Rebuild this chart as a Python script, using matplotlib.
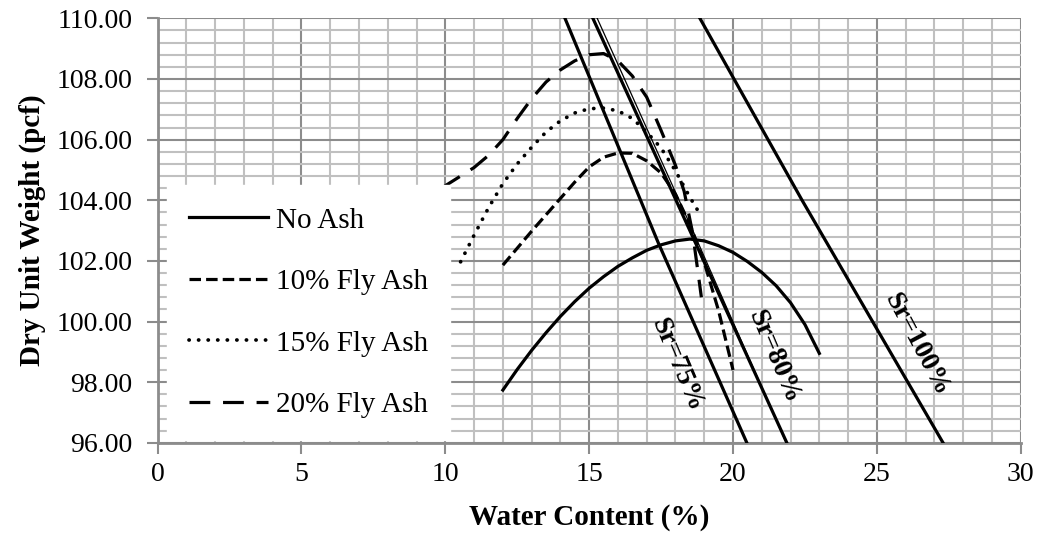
import matplotlib
matplotlib.use('Agg')
import matplotlib.pyplot as plt
from matplotlib.ticker import MultipleLocator

plt.rcParams['font.family'] = ['Liberation Serif', 'DejaVu Serif']

# compaction curves (water content %, dry unit weight pcf)
w_no_ash = [12.0, 12.5, 13.0, 13.5, 14.0, 14.5, 15.0, 15.5, 16.0, 16.5, 17.0, 17.5, 18.0,
            18.5, 19.0, 19.5, 20.0, 20.5, 21.0, 21.5, 22.0, 22.5, 23.0]
g_no_ash = [97.74, 98.42, 99.05, 99.63, 100.17, 100.66, 101.1, 101.48, 101.82, 102.1, 102.35,
            102.53, 102.66, 102.72, 102.66, 102.5, 102.28, 101.98, 101.62, 101.18, 100.62, 99.9, 98.95]

w_fa10 = [12.0, 12.5, 13.0, 13.5, 14.0, 14.5, 15.0, 15.5, 16.0, 16.5, 17.0, 17.5, 18.0,
          18.5, 19.0, 19.5, 20.0]
g_fa10 = [101.86, 102.42, 102.98, 103.52, 104.06, 104.6, 105.1, 105.42, 105.56, 105.55, 105.3,
          104.9, 104.2, 103.2, 101.95, 100.35, 98.4]

w_fa15 = [10.53, 11.0, 11.5, 12.0, 12.5, 13.0, 13.5, 14.0, 14.5, 15.0, 15.5, 16.0,
          16.5, 17.0, 17.5, 18.0, 18.5, 18.91]
g_fa15 = [101.97, 102.85, 103.75, 104.55, 105.2, 105.75, 106.25, 106.62, 106.88, 107.02,
          107.04, 106.95, 106.7, 106.25, 105.72, 104.97, 104.1, 103.45]

w_fa20 = [9.0, 9.5, 10.0, 10.5, 11.0, 11.5, 12.0, 12.5, 13.0, 13.5, 14.0, 14.5, 15.0, 15.5,
          16.0, 16.5, 17.0, 17.5, 18.0, 18.3, 18.6, 18.9]
g_fa20 = [103.7, 104.1, 104.48, 104.78, 105.08, 105.48, 106.0, 106.7, 107.35, 107.9, 108.3,
          108.6, 108.8, 108.84, 108.6, 108.1, 107.4, 106.3, 105.15, 104.3, 102.9, 100.8]

# saturation lines
w_sr75 = [14.16, 17.4, 20.48]
g_sr75 = [110.0, 102.6, 96.0]
w_sr80 = [15.13, 18.5, 21.87]
g_sr80 = [110.0, 103.0, 96.0]
w_sr80b = [15.28, 18.6, 21.85]
g_sr80b = [110.0, 103.0, 96.0]
w_sr100 = [18.85, 22.4, 27.3]
g_sr100 = [110.0, 104.0, 96.0]

fig = plt.figure(figsize=(10.44, 5.4), dpi=100)
ax = fig.add_axes([0.151, 0.180, 0.8267, 0.786])

lw = 2.3
ax.plot(w_sr75, g_sr75, color='black', lw=lw, zorder=3)
ax.plot(w_sr80, g_sr80, color='black', lw=lw, zorder=3)
ax.plot(w_sr80b, g_sr80b, color='black', lw=0.9, zorder=3)
ax.plot(w_sr100, g_sr100, color='black', lw=lw, zorder=3)

h1, = ax.plot(w_no_ash, g_no_ash, color='black', lw=lw, label='No Ash', zorder=3)
h2, = ax.plot(w_fa10, g_fa10, color='black', lw=lw, dashes=(3.6, 1.6), label='10% Fly Ash', zorder=3)
h3, = ax.plot(w_fa15, g_fa15, color='black', lw=2.7, dashes=(0.05, 2.5), dash_capstyle='round',
              label='15% Fly Ash', zorder=3)
h4, = ax.plot(w_fa20, g_fa20, color='black', lw=lw, dashes=(6.5, 4.0), label='20% Fly Ash', zorder=3)

ax.text(18.05, 98.56, 'Sr=75%', rotation=-67, fontsize=20, fontweight='bold',
        ha='center', va='center', zorder=4)
ax.text(21.4, 98.83, 'Sr=80%', rotation=-67, fontsize=20, fontweight='bold',
        ha='center', va='center', zorder=4)
ax.text(26.4, 99.24, 'Sr=100%', rotation=-62, fontsize=20, fontweight='bold',
        ha='center', va='center', zorder=4)

ax.set_xlim(0, 30)
ax.set_ylim(96, 110)
ax.xaxis.set_major_locator(MultipleLocator(5))
ax.xaxis.set_minor_locator(MultipleLocator(1))
ax.yaxis.set_major_locator(MultipleLocator(2))
ax.yaxis.set_minor_locator(MultipleLocator(0.4))
ax.grid(which='major', color='#8c8c8c', lw=1.5, zorder=1)
ax.grid(which='minor', color='#c0c0c0', lw=1.5, zorder=0)
ax.set_axisbelow(True)
ax.yaxis.set_major_formatter(plt.FuncFormatter(lambda v, p: '%.2f' % v))

for s in ['top', 'right']:
    ax.spines[s].set_visible(False)
for s in ['left', 'bottom']:
    ax.spines[s].set_color('#8c8c8c')
    ax.spines[s].set_linewidth(2)
ax.tick_params(which='major', direction='out', length=8, width=1.5, color='#8c8c8c',
               labelsize=20, pad=6)
ax.tick_params(axis='y', which='major', pad=10)
ax.tick_params(which='minor', length=0)

ax.set_xlabel('Water Content (%)', fontsize=21, fontweight='bold', labelpad=12)
ax.set_ylabel('Dry Unit Weight (pcf)', fontsize=21, fontweight='bold', labelpad=8)

leg = ax.legend(handles=[h1, h2, h3, h4], loc='lower left', bbox_to_anchor=(0.011, 0.007),
                frameon=True, fancybox=False, framealpha=1, edgecolor='white',
                fontsize=21, handlelength=2.7, handletextpad=0.28, labelspacing=1.2,
                borderpad=0.75, borderaxespad=0)
leg.set_zorder(5)

fig.savefig('out.png', dpi=100)
